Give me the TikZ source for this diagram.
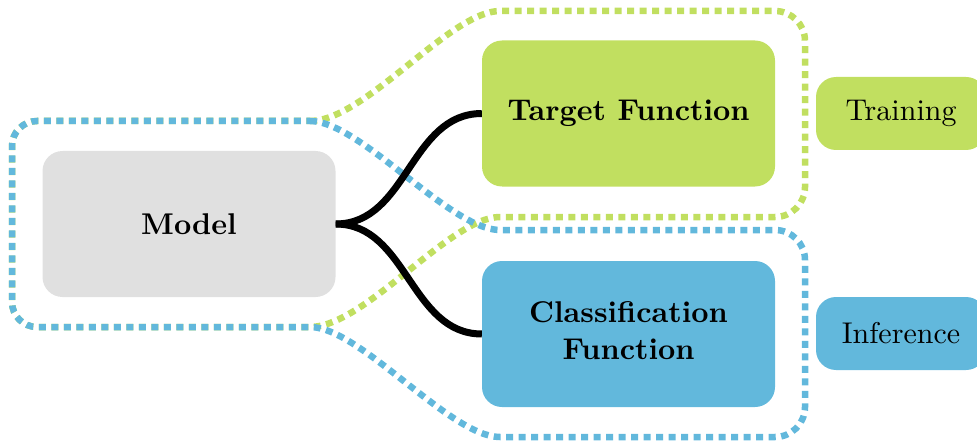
\documentclass[tikz,border=0pt]{standalone}
\usetikzlibrary{positioning}
\definecolor{boxgray}{HTML}{E0E0E0}
\definecolor{tgreen}{HTML}{C1DF60}
\definecolor{tblue}{HTML}{62B8DC}
\newcommand{\bigtxt}[1]{\scalebox{3.0}{#1}}
\newcommand{\bigtwo}[1]{\raisebox{-3pt}{\scalebox{3.0}{\renewcommand{\arraystretch}{1.03}\begin{tabular}{@{}c@{}}#1\end{tabular}}}}
\begin{document}
\begin{tikzpicture}[x=1pt,y=-1pt,
  bigbox/.style={rounded corners=20pt, minimum width=293pt, minimum height=146pt, inner sep=0pt, align=center, font=\bfseries},
  tagbox/.style={rounded corners=20pt, minimum width=170pt, minimum height=73pt, inner sep=0pt},
  outline/.style={line width=6.5pt, dash pattern=on 7pt off 5.5pt},
  link/.style={line width=7pt, black}]
\useasboundingbox (0,0) rectangle (977,441);
% outlines
\draw[outline, tgreen] (310,121) .. controls (365,121) and (450,11) .. (500,11)
  [rounded corners=30pt] -- (805,11) -- (805,217) [sharp corners] -- (500,217)
  .. controls (450,217) and (365,327) .. (310,327)
  [rounded corners=25pt] -- (12,327) -- (12,121) [sharp corners] -- cycle;
\draw[outline, tblue] (310,121) .. controls (360,121) and (450,230) .. (500,230)
  [rounded corners=30pt] -- (805,230) -- (805,437) [sharp corners] -- (500,437)
  .. controls (450,437) and (360,327) .. (310,327)
  [rounded corners=25pt] -- (12,327) -- (12,121) [sharp corners] -- cycle;
% boxes
\node[bigbox, fill=boxgray] (model) at (189,224) {\bigtxt{Model}};
\node[bigbox, fill=tgreen] (target) at (628.5,113.5) {\bigtxt{Target Function}};
\node[bigbox, fill=tblue] (classif) at (628.5,334) {\bigtwo{Classification\\Function}};
\node[tagbox, fill=tgreen] (training) at (901,113.5) {\bigtxt{Training}};
\node[tagbox, fill=tblue] (inference) at (901,333.5) {\bigtxt{Inference}};
% links
\draw[link] (model.east) to[out=0,in=180] (target.west);
\draw[link] (model.east) to[out=0,in=180] (classif.west);
\end{tikzpicture}
\end{document}
